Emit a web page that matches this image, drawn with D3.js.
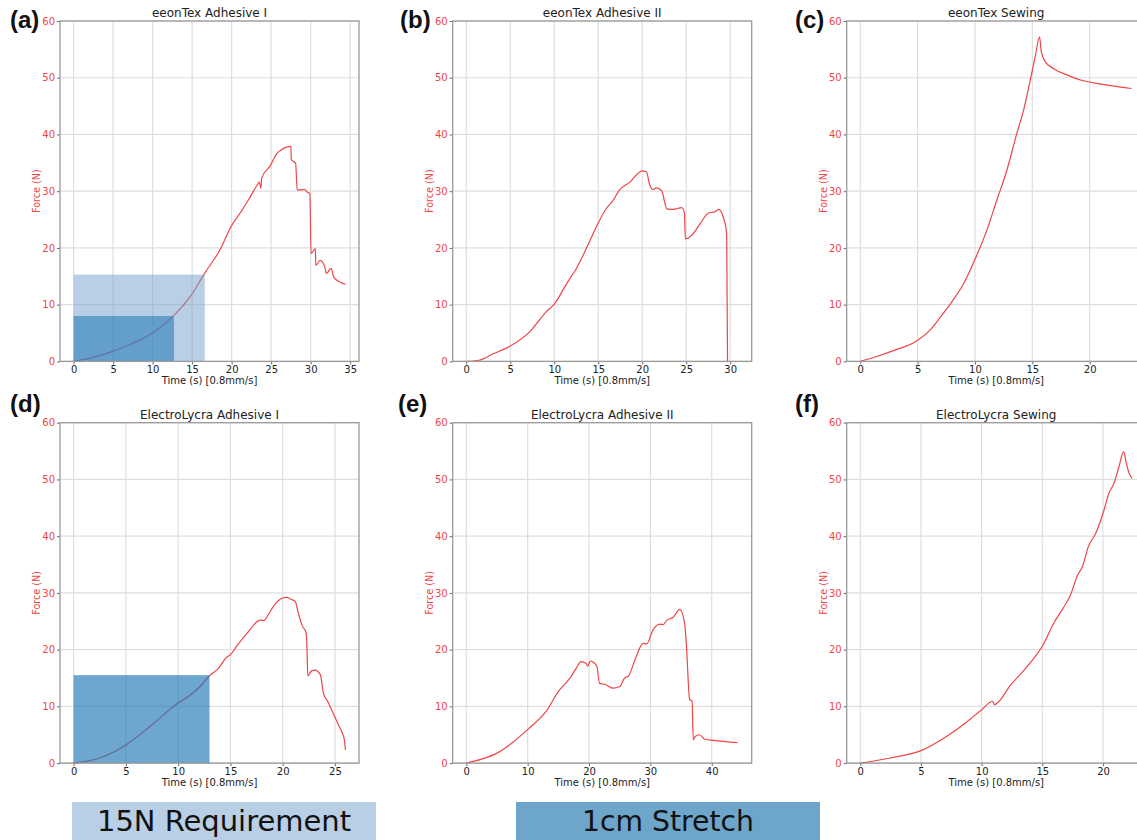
<!DOCTYPE html>
<html>
<head>
<meta charset="utf-8">
<script src="https://cdn.jsdelivr.net/npm/d3@7"></script>
<style>
  html, body { margin: 0; padding: 0; background: #fff; overflow: hidden; }
  svg { display: block; }
</style>
</head>
<body>
<svg id="chart" width="1137" height="840"></svg>
<script>
// ---------------- DATA ----------------
const titles = ["eeonTex Adhesive I", "eeonTex Adhesive II", "eeonTex Sewing",
                "ElectroLycra Adhesive I", "ElectroLycra Adhesive II", "ElectroLycra Sewing"];
const panelLabels = ["(a)", "(b)", "(c)", "(d)", "(e)", "(f)"];

const timeA  = [0, 2.5, 5, 7.5, 10, 12.7, 15, 16.5, 18.5, 20.1, 21.05, 22.1, 23.2, 23.5, 23.7, 23.8, 24.9, 25.7, 26.1, 27.0, 27.5, 27.55, 28.1, 28.3, 29.3, 29.5, 29.9, 30.05, 30.6, 30.65, 31.2, 31.8, 32.0, 32.6, 32.9, 33.7, 34.4];
const forceA = [0, 0.7, 1.8, 3.2, 5.0, 8.1, 11.9, 15.35, 19.6, 24.2, 26.1, 28.4, 31.0, 31.6, 30.5, 32.3, 34.5, 36.6, 37.1, 37.8, 37.9, 35.6, 34.9, 30.2, 30.3, 29.9, 29.6, 19.0, 19.9, 16.9, 17.8, 16.6, 15.5, 16.4, 14.9, 14.0, 13.6];

const timeB  = [0, 1.45, 3.0, 5.0, 7.2, 9.06, 10.05, 11.3, 11.9, 12.3, 12.9, 14.0, 15.0, 15.9, 16.7, 17.4, 18.6, 20.0, 20.5, 20.8, 21.2, 21.6, 22.2, 22.8, 23.5, 24.5, 24.8, 24.9, 25.6, 26.6, 27.5, 28.3, 28.7, 29.2, 29.6, 29.7];
const forceB = [0, 0.2, 1.3, 2.7, 5.2, 8.7, 10.2, 13.4, 14.9, 15.8, 17.5, 21.1, 24.4, 26.9, 28.4, 30.2, 31.6, 33.6, 33.4, 31.4, 30.3, 30.6, 30.1, 26.9, 26.8, 27.1, 26.1, 21.6, 22.2, 24.3, 26.1, 26.4, 26.8, 25.5, 22.5, 0];

const timeC  = [0, 1.5, 2.88, 4.98, 6.08, 7.1, 7.98, 9.0, 9.96, 11.03, 11.9, 12.78, 13.65, 14.24, 14.82, 15.25, 15.63, 15.78, 16.13, 16.86, 18.02, 19.19, 20.35, 21.8, 23.64];
const forceC = [0, 0.9, 1.9, 3.7, 5.5, 8.1, 10.5, 13.7, 17.8, 23.1, 28.4, 33.7, 40.2, 44.3, 49.6, 53.7, 57.2, 54.6, 52.8, 51.6, 50.5, 49.6, 49.1, 48.6, 48.1];

const timeD  = [0, 2.5, 5.0, 7.5, 10.0, 10.8, 12.1, 13.0, 13.86, 14.66, 15.0, 15.6, 16.6, 17.86, 18.2, 18.5, 19.1, 19.9, 20.4, 20.9, 21.2, 21.5, 21.9, 22.2, 22.3, 22.4, 22.8, 23.1, 23.6, 23.9, 24.3, 24.9, 25.4, 25.7, 25.9, 26.0];
const forceD = [0, 0.9, 3.2, 6.75, 10.6, 11.5, 13.5, 15.4, 16.7, 18.7, 19.1, 20.6, 22.9, 25.2, 25.1, 25.8, 27.6, 29.0, 29.2, 28.8, 28.5, 26.4, 24.1, 23.2, 21.7, 15.4, 16.3, 16.4, 15.6, 12.3, 10.9, 8.5, 6.5, 5.3, 4.1, 2.3];

const timeE  = [0, 2.5, 5.07, 7.5, 9.98, 13.0, 15.2, 16.3, 17.1, 17.9, 18.7, 19.5, 19.8, 20.2, 20.9, 21.3, 21.7, 22.8, 23.4, 23.9, 25.0, 25.8, 26.4, 27.7, 28.8, 29.4, 30.4, 31.5, 32.1, 32.6, 33.7, 34.8, 35.6, 35.9, 36.4, 36.8, 37.0, 37.3, 38.0, 38.9, 40.3, 44.2];
const forceE = [0, 0.7, 1.8, 3.6, 5.9, 9.1, 12.9, 14.2, 15.3, 16.7, 17.9, 17.6, 17.1, 18.0, 17.6, 17.0, 14.1, 13.8, 13.4, 13.2, 13.5, 15.0, 15.3, 18.8, 21.1, 21.0, 23.4, 24.5, 24.4, 25.1, 25.7, 27.1, 24.5, 20.3, 11.2, 10.9, 4.1, 4.7, 5.0, 4.2, 4.0, 3.6];

const timeF  = [0, 2.5, 5.0, 7.1, 8.8, 10.0, 10.9, 11.05, 12.4, 13.5, 14.2, 15.0, 15.95, 16.8, 17.3, 17.9, 18.3, 18.8, 19.4, 20.0, 20.5, 20.9, 21.3, 21.7, 21.9, 22.1, 22.4];
const forceF = [0, 0.9, 2.2, 4.7, 7.3, 9.4, 10.9, 10.3, 13.8, 16.4, 18.2, 20.6, 24.7, 27.6, 29.5, 33.1, 34.6, 38.2, 40.5, 44.0, 47.6, 49.3, 52.1, 54.9, 53.1, 51.4, 50.2];

// last recorded time of each test (sets x extent)
const maxTime = [34.4, 30.9, 23.7, 26.0, 44.3, 22.4];

const xTicksA = [0, 5, 10, 15, 20, 25, 30, 35];
const xTicksB = [0, 5, 10, 15, 20, 25, 30];
const xTicksC = [0, 5, 10, 15, 20];
const xTicksD = [0, 5, 10, 15, 20, 25];
const xTicksE = [0, 10, 20, 30, 40];
const xTicksF = [0, 5, 10, 15, 20];
const yTicks  = [0, 10, 20, 30, 40, 50, 60];

// shaded regions
const reqPanel = [0];        const reqTime = [16.6];           const reqForce = [15.3];
const stretchPanel = [0, 3]; const stretchTime = [12.7, 13.0]; const stretchForce = [8.0, 15.5];

const legendLabels = ["15N Requirement", "1cm Stretch"];

// ---------------- LAYOUT ----------------
const times  = [timeA, timeB, timeC, timeD, timeE, timeF];
const forces = [forceA, forceB, forceC, forceD, forceE, forceF];
const xTicks = [xTicksA, xTicksB, xTicksC, xTicksD, xTicksE, xTicksF];

const lefts = [60, 452.7, 846.7];
const tops = [21, 422.7];
const pw = 299, ph = 340.4;
const labelPos = [[10, 28], [400, 28], [795, 28], [10, 412], [398, 412], [795, 412]];

const RED = "#ee4646";
const LIGHT = "#719fcd";
const DARK = "#1f77b4";

const svg = d3.select("#chart");
svg.append("rect").attr("width", 1137).attr("height", 840).attr("fill", "#fff");

for (let i = 0; i < 6; i++) {
  const col = i % 3, row = Math.floor(i / 3);
  const L = lefts[col], T = tops[row];
  const m = maxTime[i] * 0.05;
  const x = d3.scaleLinear().domain([-m, maxTime[i] + m]).range([0, pw]);
  const y = d3.scaleLinear().domain([0, 60]).range([ph, 0]);

  const g = svg.append("g").attr("transform", `translate(${L},${T})`);

  // grid
  g.append("g").selectAll("line").data(xTicks[i]).join("line")
    .attr("x1", d => x(d)).attr("x2", d => x(d)).attr("y1", 0).attr("y2", ph)
    .attr("stroke", "#dedede").attr("stroke-width", 1.2);
  g.append("g").selectAll("line").data(yTicks).join("line")
    .attr("x1", 0).attr("x2", pw).attr("y1", d => y(d)).attr("y2", d => y(d))
    .attr("stroke", "#dedede").attr("stroke-width", 1.2);

  // line
  const pts = times[i].map((t, k) => [t, forces[i][k]]);
  g.append("path").datum(pts)
    .attr("d", d3.line().curve(d3.curveMonotoneX).x(d => x(d[0])).y(d => y(d[1])))
    .attr("fill", "none").attr("stroke", RED).attr("stroke-width", 1.2)
    .attr("stroke-linejoin", "round");

  // shaded rects
  reqPanel.forEach((p, k) => {
    if (p !== i) return;
    g.append("rect").attr("x", x(0)).attr("y", y(reqForce[k]))
      .attr("width", x(reqTime[k]) - x(0)).attr("height", y(0) - y(reqForce[k]))
      .attr("fill", LIGHT).attr("fill-opacity", 0.5);
  });
  stretchPanel.forEach((p, k) => {
    if (p !== i) return;
    g.append("rect").attr("x", x(0)).attr("y", y(stretchForce[k]))
      .attr("width", x(stretchTime[k]) - x(0)).attr("height", y(0) - y(stretchForce[k]))
      .attr("fill", DARK).attr("fill-opacity", i === 0 ? 0.55 : 0.65);
  });

  // axes
  const xa = g.append("g").attr("transform", `translate(0,${ph})`)
    .call(d3.axisBottom(x).tickValues(xTicks[i]).tickSize(3).tickPadding(2).tickFormat(d3.format("d")));
  xa.select(".domain").remove();
  xa.selectAll("line").attr("stroke", "#666");
  xa.selectAll("text").attr("fill", "#222").style("font", "10px 'DejaVu Sans'");

  const ya = g.append("g")
    .call(d3.axisLeft(y).tickValues(yTicks).tickSize(3).tickPadding(2).tickFormat(d3.format("d")));
  ya.select(".domain").remove();
  ya.selectAll("line").attr("stroke", "#666");
  ya.selectAll("text").attr("fill", RED).style("font", "10px 'DejaVu Sans'");

  // spines
  g.append("rect").attr("x", 0).attr("y", 0).attr("width", pw).attr("height", ph)
    .attr("fill", "none").attr("stroke", "#9a9a9a").attr("stroke-width", 1.3);

  // labels
  g.append("text").attr("x", pw / 2).attr("y", -4).attr("text-anchor", "middle")
    .attr("fill", "#222").style("font", "12px 'DejaVu Sans'").text(titles[i]);
  g.append("text").attr("x", pw / 2).attr("y", ph + 23)
    .attr("text-anchor", "middle").attr("fill", "#222")
    .style("font", "10px 'DejaVu Sans'").text("Time (s) [0.8mm/s]");
  g.append("text").attr("transform", `translate(-20,${ph / 2}) rotate(-90)`)
    .attr("text-anchor", "middle").attr("fill", RED)
    .style("font", "9.6px 'DejaVu Sans'").text("Force (N)");

  svg.append("text").attr("x", labelPos[i][0]).attr("y", labelPos[i][1])
    .attr("fill", "#111").style("font", "bold 24px 'Liberation Sans'").text(panelLabels[i]);
}

// legend boxes
const legendColors = ["#b8cfe6", "#6ea5cb"];
const legendX = [72, 516];
const legendTextLen = [254, 172];
legendLabels.forEach((lab, k) => {
  svg.append("rect").attr("x", legendX[k]).attr("y", 802).attr("width", 304).attr("height", 40)
    .attr("fill", legendColors[k]);
  svg.append("text").attr("x", legendX[k] + 152).attr("y", 831).attr("text-anchor", "middle")
    .attr("fill", "#111").style("font", "29px 'DejaVu Sans'")
    .attr("textLength", legendTextLen[k]).attr("lengthAdjust", "spacingAndGlyphs")
    .text(lab);
});
</script>
</body>
</html>
